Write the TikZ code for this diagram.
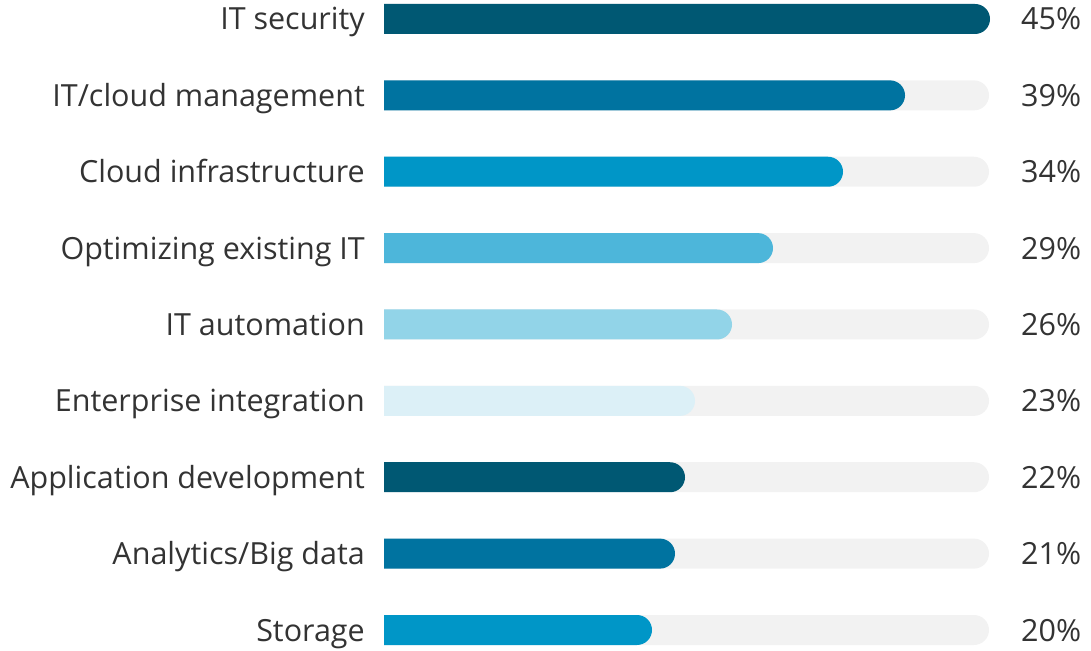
\documentclass[tikz,border=0pt]{standalone}
\usepackage{fontspec}
\setmainfont{Open Sans}
\definecolor{c1}{HTML}{005873}
\definecolor{c2}{HTML}{0073A0}
\definecolor{c3}{HTML}{0096C7}
\definecolor{c4}{HTML}{4DB6DA}
\definecolor{c5}{HTML}{92D4E8}
\definecolor{c6}{HTML}{DCF0F7}
\definecolor{trackc}{HTML}{F2F2F2}
\definecolor{txt}{HTML}{333333}
\tikzset{
  lbl/.style={anchor=base east, inner sep=0pt, text=txt, font=\fontsize{30.5}{33}\selectfont},
  pct/.style={anchor=base west, inner sep=0pt, text=txt, font=\fontsize{30.5}{33}\selectfont},
}
\begin{document}
\begin{tikzpicture}[x=1pt,y=1pt]
\useasboundingbox (0,0) rectangle (1091,650);
\foreach \i/\name/\p/\xe/\col in {
  1/IT security/45\%/990/c1,
  2/IT\slash cloud management/39\%/905/c2,
  3/Cloud infrastructure/34\%/843/c3,
  4/Optimizing existing IT/29\%/773/c4,
  5/IT automation/26\%/732/c5,
  6/Enterprise integration/23\%/695/c6,
  7/Application development/22\%/685/c1,
  8/Analytics\slash Big data/21\%/675/c2,
  9/Storage/20\%/652/c3}{
  \pgfmathsetmacro{\yc}{650-19-(\i-1)*76.375}
  \fill[trackc] (384,\yc-15) -- (974,\yc-15) arc[start angle=-90,end angle=90,radius=15] -- (384,\yc+15) -- cycle;
  \fill[\col] (384,\yc-15) -- (\xe-15,\yc-15) arc[start angle=-90,end angle=90,radius=15] -- (384,\yc+15) -- cycle;
  \node[lbl] (l\i) at (365,\yc-11) {\name};
  \node[pct] (p\i) at (1021,\yc-11) {\p};
}
\end{tikzpicture}
\end{document}
